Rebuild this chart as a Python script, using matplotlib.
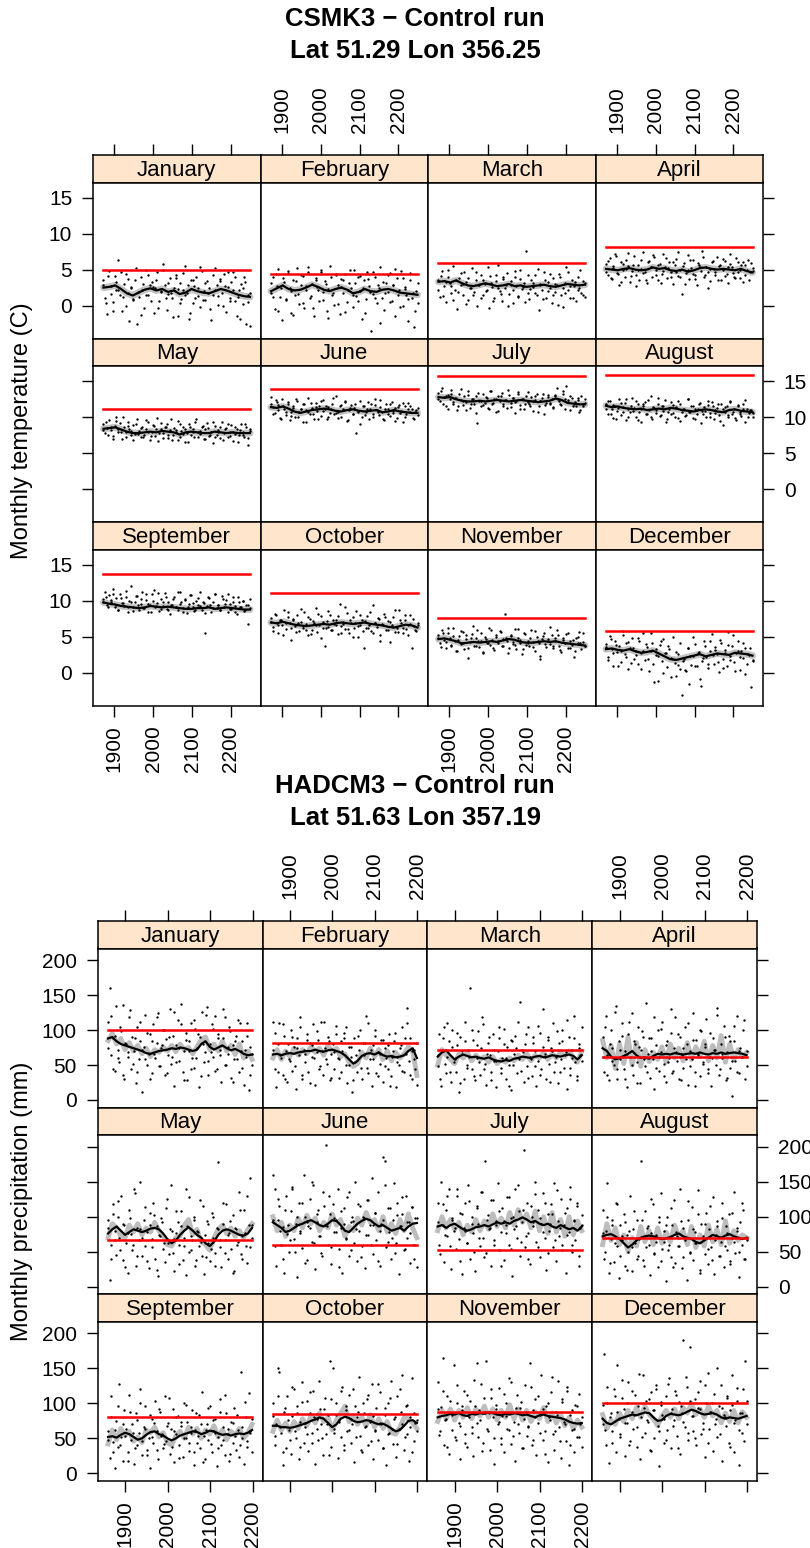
import numpy as np
import matplotlib
matplotlib.use("Agg")
import matplotlib.pyplot as plt

plt.rcParams['font.family'] = ['Liberation Sans', 'DejaVu Sans']

months = ["January", "February", "March", "April", "May", "June",
          "July", "August", "September", "October", "November", "December"]
year_ticks = [1900, 2000, 2100, 2200]

# ---------------- CSMK3 temperature (values in tenths of a degree C) ----------------
temp_years = [1872, 2249]
temp_yticks = [0, 5, 10, 15]
temp_baseline = [4.9, 4.4, 5.9, 8.1, 11.1, 13.9, 15.7, 15.9, 13.8, 11.1, 7.6, 5.8]
temp_smooth = [
    [25, 26, 28, 23, 17, 14, 18, 22, 24, 21, 23, 19, 21, 16, 18, 23, 20, 18, 17, 20, 23, 21, 18, 15, 13, 12],
    [20, 24, 28, 23, 21, 22, 25, 29, 26, 22, 20, 23, 25, 22, 17, 19, 23, 20, 19, 22, 23, 21, 18, 17, 16, 15],
    [33, 34, 32, 35, 31, 28, 27, 29, 31, 29, 27, 28, 30, 27, 28, 26, 27, 28, 29, 27, 26, 28, 30, 29, 28, 29],
    [51, 50, 49, 51, 52, 50, 49, 50, 53, 51, 52, 49, 48, 50, 47, 49, 52, 53, 51, 50, 51, 50, 49, 51, 48, 46],
    [84, 85, 86, 83, 80, 78, 78, 79, 80, 79, 81, 80, 79, 76, 79, 80, 79, 78, 78, 80, 79, 78, 79, 78, 78, 78],
    [114, 113, 115, 112, 108, 106, 108, 110, 111, 112, 111, 109, 108, 110, 111, 109, 108, 109, 110, 107, 108, 110, 108, 107, 106, 106],
    [128, 127, 128, 125, 123, 122, 122, 123, 122, 123, 124, 123, 122, 123, 124, 123, 122, 121, 122, 123, 126, 124, 120, 119, 118, 118],
    [116, 114, 115, 113, 112, 111, 112, 110, 111, 112, 111, 113, 112, 110, 109, 108, 110, 111, 110, 108, 107, 110, 111, 109, 108, 107],
    [98, 96, 95, 93, 92, 91, 90, 91, 93, 92, 91, 92, 91, 90, 89, 89, 90, 90, 91, 89, 90, 91, 90, 89, 88, 88],
    [70, 69, 71, 69, 67, 66, 65, 66, 67, 68, 67, 69, 70, 69, 68, 69, 70, 68, 67, 66, 64, 63, 65, 67, 66, 63],
    [47, 48, 46, 44, 41, 42, 43, 42, 43, 44, 43, 45, 47, 46, 43, 42, 42, 43, 44, 43, 44, 42, 41, 40, 39, 38],
    [33, 34, 32, 31, 33, 30, 28, 29, 31, 27, 23, 19, 18, 20, 22, 24, 26, 23, 25, 27, 26, 25, 28, 27, 26, 24],
]
temp_points = [
    [35, 10, -12, 48, 27, 5, 41, 22, 63, 15, -8, 30, 44, 18, -22, 26, 8, 36, -25, 12, 39, 21, -3, 50, 14, 29, 33, -10, 24, 46, 7, 19, 58, 28, -6, 16, 38, 11, 25, 43, -14, 31, 9, 22, 55, 17, -18, 35, 4, 27, 40, 13, -2, 48, 20, 8, 34, 24, -20, 15, 52, 29, 1, 37, 18, 44, -9, 26, 11, 33, 47, 6, -15, 22, 30, 2, 39, -26, 14, -28],
    [18, 40, -5, 27, 51, 12, -20, 33, 8, 45, 24, -10, 36, 15, 52, 2, 29, 41, -4, 21, 47, 11, 30, -15, 38, 26, 6, 49, 19, 34, -8, 23, 55, 14, 1, 42, 28, -12, 37, 17, 44, 5, 31, 25, -2, 50, 13, 39, 20, -18, 35, 9, 46, 27, -35, 16, 40, 3, 24, 53, 11, -6, 32, 19, 45, 7, 28, -14, 38, 22, 48, 0, 26, 15, -22, 36, 10, -30, 20, 4],
    [35, 12, 48, 27, 5, 40, 31, 18, 55, 22, -5, 38, 29, 14, 46, 33, 8, 25, 52, 19, 36, 0, 28, 43, 15, 30, 21, -3, 41, 26, 11, 34, 56, 20, 7, 37, 24, 45, 16, 29, 3, 39, 27, 13, 50, 23, 32, 76, 18, 9, 35, 26, 42, 14, -6, 30, 21, 47, 11, 33, 25, 4, 38, 19, 28, 44, 15, -2, 31, 53, 22, 10, 36, 27, 6, 40, 24, 17, 34, 12],
    [58, 43, 66, 37, 52, 71, 45, 29, 60, 50, 39, 64, 55, 33, 48, 69, 42, 57, 36, 51, 74, 46, 31, 62, 54, 40, 67, 49, 35, 58, 44, 72, 53, 38, 61, 47, 30, 56, 65, 41, 50, 16, 59, 45, 70, 37, 52, 63, 43, 28, 57, 48, 76, 39, 54, 46, 34, 61, 51, 42, 68, 55, 36, 49, 62, 44, 31, 58, 53, 40, 66, 47, 38, 56, 60, 43, 50, 35, 59, 48],
    [90, 78, 85, 96, 82, 74, 88, 101, 80, 92, 70, 86, 79, 94, 83, 75, 89, 77, 98, 81, 72, 87, 76, 84, 93, 69, 80, 88, 74, 99, 78, 83, 71, 86, 91, 76, 82, 68, 85, 79, 95, 73, 81, 87, 66, 78, 90, 75, 84, 72, 97, 80, 77, 86, 70, 83, 92, 74, 79, 64, 88, 76, 82, 71, 94, 78, 85, 73, 80, 89, 67, 77, 84, 75, 91, 79, 72, 86, 62, 81],
    [128, 114, 106, 121, 117, 99, 125, 111, 103, 119, 96, 108, 115, 101, 122, 107, 112, 94, 118, 110, 127, 104, 113, 98, 120, 109, 116, 102, 124, 111, 97, 114, 106, 119, 105, 130, 108, 115, 100, 112, 121, 95, 110, 117, 104, 113, 78, 109, 123, 101, 116, 107, 112, 98, 119, 105, 126, 110, 103, 114, 108, 96, 118, 111, 102, 121, 106, 113, 99, 117, 109, 93, 115, 104, 120, 107, 112, 97, 110, 103],
    [134, 122, 140, 128, 116, 131, 125, 138, 119, 127, 110, 133, 124, 117, 129, 121, 136, 113, 126, 119, 130, 92, 123, 115, 132, 120, 127, 111, 137, 118, 125, 108, 129, 122, 134, 116, 124, 113, 131, 120, 127, 106, 123, 135, 117, 126, 112, 130, 121, 119, 128, 109, 124, 133, 115, 122, 127, 104, 120, 131, 118, 125, 114, 129, 140, 123, 117, 132, 126, 143, 121, 110, 127, 119, 115, 124, 108, 129, 116, 120],
    [118, 105, 122, 112, 99, 116, 109, 125, 103, 114, 120, 96, 111, 107, 127, 113, 101, 118, 108, 94, 115, 121, 104, 110, 129, 98, 113, 106, 119, 102, 116, 109, 124, 97, 112, 105, 117, 100, 114, 122, 95, 108, 111, 103, 126, 107, 115, 99, 112, 104, 119, 92, 109, 114, 101, 117, 106, 121, 98, 110, 113, 103, 118, 89, 108, 115, 100, 123, 105, 111, 96, 116, 107, 102, 119, 94, 112, 106, 110, 101],
    [103, 112, 95, 108, 99, 116, 91, 104, 87, 110, 97, 93, 105, 85, 100, 121, 92, 98, 107, 88, 96, 113, 90, 101, 84, 94, 109, 115, 91, 97, 86, 103, 93, 111, 89, 99, 82, 95, 106, 92, 87, 113, 98, 90, 102, 83, 96, 108, 91, 86, 100, 94, 112, 88, 97, 56, 93, 104, 85, 99, 110, 90, 95, 87, 107, 92, 101, 84, 96, 89, 105, 93, 82, 98, 91, 100, 86, 94, 68, 90],
    [76, 64, 82, 70, 55, 73, 67, 88, 61, 78, 69, 46, 74, 65, 80, 58, 71, 63, 85, 68, 52, 75, 60, 70, 90, 57, 66, 79, 62, 37, 72, 64, 81, 59, 68, 74, 54, 96, 65, 71, 61, 83, 56, 69, 77, 63, 86, 50, 67, 73, 35, 62, 79, 66, 58, 94, 70, 64, 75, 53, 68, 82, 60, 72, 43, 66, 78, 57, 63, 87, 69, 55, 74, 61, 67, 80, 34, 65, 58, 70],
    [52, 41, 60, 46, 35, 55, 49, 38, 62, 44, 30, 51, 40, 57, 33, 47, 21, 43, 54, 37, 48, 59, 36, 45, 28, 50, 42, 63, 39, 46, 32, 53, 41, 58, 38, 47, 82, 44, 35, 51, 40, 61, 33, 48, 42, 26, 55, 39, 45, 37, 59, 43, 31, 50, 41, 19, 47, 56, 36, 44, 40, 52, 34, 48, 60, 38, 29, 46, 42, 54, 35, 45, 39, 22, 49, 41, 57, 33, 43, 37],
    [40, 22, 51, 33, 10, 45, 29, 37, 15, 58, 26, 41, 5, 34, 48, 20, 31, 12, 44, 27, 55, 18, 36, 3, 30, 42, -12, 25, -11, 39, 16, 47, 28, 8, 33, 21, 50, 14, -4, 26, 6, -31, 19, 2, 35, -15, 11, 24, 40, 9, 29, -18, 17, 45, 22, 7, 31, 54, 13, 36, 26, 1, 42, 19, 32, 10, 57, 23, 38, 15, 28, 44, 4, 30, 21, 35, 12, 25, -20, 18],
]
temp_points_more = [
    [28, 4, 41, 16, -7, 33, 21, 47, 12, -1, 37, 25, 9, 52, 19, -13, 30, 14, 43, 6, 26, 35, -4, 20, 49, 11, 32, 17, -16, 38, 23, 3, 45, 15, 29, -11, 36, 10, 24, 54, 8, 31, 18, -5, 42, 22, 13, 34, -1, 27, 46, 7, 21, 39, 12, -19, 25, 33, 5, 17],
    [31, 12, 44, -7, 25, 38, 9, 48, 20, -13, 34, 16, 42, 4, 27, 53, 13, -3, 36, 22, 47, 8, 30, -17, 39, 18, 44, 2, 26, 35, -9, 21, 50, 15, 32, 6, 41, 24, -11, 37, 19, 46, 10, 29, -24, 33, 17, 43, 5, 28, 51, 14, -2, 38, 23, 9, 45, 18, -8, 31],
    [22, 41, 13, 33, 50, 27, 8, 36, 19, 45, 30, 2, 38, 24, 14, 47, 28, 11, 35, 20, 53, 31, 6, 42, 25, 16, 39, 29, -1, 34, 21, 48, 12, 37, 26, 5, 43, 23, 32, 17, 51, 28, 9, 36, 20, 44, 14, 30, 1, 40, 25, 18, 46, 27, 10, 33, 22, 49, 15, 31],
    [47, 62, 38, 55, 69, 44, 33, 58, 51, 73, 41, 56, 27, 49, 64, 45, 36, 60, 53, 70, 42, 57, 32, 48, 66, 52, 39, 61, 46, 75, 40, 55, 30, 50, 63, 44, 37, 59, 54, 68, 43, 25, 51, 62, 47, 35, 57, 65, 41, 53, 72, 45, 38, 60, 49, 33, 56, 64, 46, 52],
    [82, 93, 76, 87, 70, 95, 84, 79, 100, 73, 88, 81, 68, 91, 77, 85, 72, 96, 80, 74, 89, 83, 67, 92, 78, 86, 71, 98, 75, 82, 69, 90, 77, 84, 65, 87, 79, 93, 73, 81, 88, 70, 85, 76, 94, 72, 80, 86, 68, 83, 90, 74, 79, 87, 66, 82, 76, 91, 71, 84],
    [118, 105, 124, 110, 97, 115, 108, 121, 102, 113, 126, 100, 111, 118, 93, 107, 120, 104, 114, 98, 123, 109, 116, 101, 112, 127, 106, 99, 117, 110, 122, 96, 113, 105, 119, 108, 91, 115, 103, 121, 111, 100, 117, 107, 124, 98, 112, 104, 118, 109, 95, 114, 106, 120, 101, 111, 116, 99, 108, 113],
    [125, 137, 118, 129, 112, 133, 121, 127, 115, 139, 123, 110, 131, 119, 126, 106, 134, 122, 117, 128, 113, 136, 120, 125, 109, 130, 118, 124, 138, 114, 127, 121, 132, 111, 126, 119, 135, 116, 123, 129, 107, 122, 133, 117, 128, 120, 113, 131, 125, 118, 136, 112, 124, 130, 115, 121, 127, 110, 119, 125],
    [111, 123, 104, 117, 98, 113, 120, 107, 126, 101, 115, 109, 122, 96, 112, 118, 105, 124, 100, 114, 110, 127, 103, 116, 93, 108, 121, 106, 113, 99, 119, 111, 102, 125, 107, 116, 97, 112, 120, 104, 109, 123, 100, 115, 106, 118, 95, 111, 114, 103, 121, 108, 99, 117, 105, 112, 124, 101, 110, 106],
    [98, 106, 91, 101, 110, 94, 88, 104, 97, 114, 92, 99, 86, 107, 95, 102, 90, 109, 96, 84, 100, 93, 111, 89, 98, 105, 87, 94, 103, 91, 113, 96, 85, 101, 92, 108, 97, 88, 104, 93, 99, 83, 106, 95, 90, 110, 94, 87, 102, 96, 109, 89, 98, 84, 105, 92, 100, 88, 95, 103],
    [71, 58, 80, 66, 74, 52, 69, 84, 62, 75, 57, 70, 89, 65, 60, 77, 54, 72, 67, 82, 48, 71, 63, 86, 59, 73, 66, 79, 56, 68, 92, 61, 74, 50, 70, 65, 81, 58, 72, 63, 84, 55, 69, 76, 45, 67, 78, 60, 71, 64, 88, 57, 73, 62, 80, 53, 68, 75, 59, 66],
    [48, 36, 56, 43, 62, 39, 51, 31, 46, 58, 41, 53, 34, 49, 65, 38, 45, 55, 29, 47, 42, 60, 35, 50, 44, 57, 37, 48, 27, 52, 43, 39, 61, 46, 33, 54, 41, 49, 36, 58, 44, 24, 51, 40, 47, 64, 38, 45, 53, 32, 48, 42, 56, 35, 46, 30, 50, 41, 55, 37],
    [36, 18, 47, 27, 39, 9, 31, 52, 22, 43, 14, 35, 25, 48, 6, 30, 40, 20, 55, 12, 33, 24, 45, 0, 28, 38, -6, 19, 29, 11, 41, 16, 4, 34, 23, 50, 9, 27, -9, 21, 37, 13, 44, 25, 32, 15, 46, 7, 28, 39, 18, 53, 3, 30, 22, 42, -2, 26, 35, 17],
]

# ---------------- HADCM3 precipitation (mm) ----------------
prec_years = [1860, 2199]
prec_yticks = [0, 50, 100, 150, 200]
prec_baseline = [100, 81, 72, 61, 66, 60, 52, 69, 81, 85, 87, 100]
prec_smooth = [
    [88, 90, 84, 80, 78, 76, 74, 72, 70, 67, 66, 68, 70, 71, 72, 74, 73, 75, 74, 72, 70, 72, 80, 84, 76, 72, 75, 78, 74, 71, 73, 70, 66, 64, 65],
    [65, 66, 64, 66, 67, 66, 68, 69, 70, 70, 72, 70, 69, 71, 72, 70, 68, 64, 58, 52, 56, 63, 66, 67, 65, 68, 64, 62, 63, 61, 62, 64, 70, 74, 60],
    [62, 68, 71, 64, 58, 62, 65, 63, 61, 62, 60, 59, 61, 58, 56, 55, 57, 56, 59, 60, 62, 61, 60, 62, 63, 61, 62, 64, 63, 62, 64, 65, 63, 58, 64],
    [74, 70, 62, 58, 60, 63, 66, 70, 64, 60, 61, 59, 63, 66, 65, 66, 65, 67, 66, 65, 66, 67, 66, 68, 66, 65, 67, 66, 68, 66, 67, 68, 67, 66, 64],
    [76, 82, 86, 80, 74, 78, 82, 80, 78, 80, 83, 84, 82, 76, 68, 62, 66, 74, 80, 85, 80, 74, 70, 62, 58, 64, 74, 80, 82, 80, 77, 74, 73, 76, 84],
    [92, 88, 84, 78, 80, 84, 88, 90, 93, 95, 92, 88, 86, 90, 95, 94, 88, 80, 78, 84, 90, 94, 97, 95, 90, 86, 88, 84, 80, 82, 84, 80, 86, 90, 91],
    [86, 88, 84, 88, 90, 86, 82, 80, 82, 85, 86, 88, 86, 89, 92, 90, 92, 90, 94, 96, 99, 96, 92, 94, 90, 88, 90, 86, 84, 88, 85, 82, 84, 80, 86],
    [72, 74, 75, 72, 68, 62, 56, 60, 66, 70, 72, 73, 72, 70, 68, 69, 71, 74, 76, 72, 70, 68, 64, 62, 66, 70, 74, 72, 70, 73, 75, 72, 70, 68, 70],
    [52, 53, 51, 55, 58, 56, 52, 48, 50, 55, 59, 60, 56, 54, 50, 47, 50, 54, 56, 58, 60, 59, 56, 58, 61, 60, 57, 55, 56, 54, 56, 57, 56, 58, 62],
    [68, 68, 66, 66, 65, 66, 68, 70, 72, 75, 77, 80, 78, 72, 66, 70, 78, 81, 79, 75, 73, 74, 76, 75, 72, 70, 71, 68, 64, 60, 62, 68, 75, 76, 72],
    [80, 82, 83, 85, 84, 86, 83, 82, 85, 84, 86, 85, 87, 86, 84, 83, 85, 84, 86, 85, 83, 84, 82, 80, 83, 84, 82, 81, 80, 79, 77, 74, 72, 71, 72],
    [78, 72, 70, 74, 78, 80, 82, 84, 83, 85, 87, 86, 80, 75, 76, 82, 85, 84, 83, 85, 88, 91, 89, 86, 84, 85, 86, 84, 80, 78, 80, 79, 78, 80, 82],
]
prec_wiggle = [
    [85, 95, 80, 88, 72, 82, 70, 78, 66, 74, 62, 72, 68, 76, 70, 78, 69, 80, 72, 75, 66, 76, 86, 90, 72, 80, 70, 84, 70, 78, 65, 80, 60, 70, 58],
    [60, 72, 58, 70, 62, 74, 64, 72, 66, 76, 68, 74, 64, 78, 70, 74, 62, 66, 54, 48, 52, 68, 60, 74, 62, 72, 58, 70, 56, 68, 60, 66, 76, 70, 35],
    [50, 72, 64, 58, 52, 66, 60, 68, 56, 64, 58, 62, 54, 62, 52, 58, 54, 60, 56, 64, 58, 66, 56, 64, 60, 68, 58, 66, 60, 68, 62, 70, 60, 54, 70],
    [85, 60, 78, 45, 80, 52, 90, 50, 82, 48, 72, 55, 68, 58, 76, 54, 80, 60, 74, 56, 82, 58, 76, 62, 84, 56, 78, 60, 92, 54, 80, 58, 72, 62, 68],
    [70, 90, 84, 72, 70, 88, 78, 90, 74, 84, 78, 92, 80, 72, 60, 58, 70, 72, 88, 96, 74, 82, 64, 60, 52, 70, 82, 88, 76, 84, 72, 80, 70, 82, 90],
    [100, 80, 92, 72, 88, 80, 98, 84, 102, 90, 98, 80, 92, 84, 104, 88, 96, 72, 86, 80, 98, 88, 106, 92, 96, 80, 100, 78, 90, 76, 96, 80, 104, 84, 70],
    [80, 100, 84, 96, 82, 92, 74, 88, 78, 96, 80, 94, 82, 104, 86, 98, 84, 106, 88, 110, 92, 104, 84, 108, 80, 100, 76, 106, 78, 96, 72, 100, 74, 94, 80],
    [60, 90, 66, 84, 60, 74, 50, 70, 58, 86, 64, 80, 60, 84, 62, 78, 64, 88, 70, 80, 60, 86, 56, 74, 58, 88, 64, 82, 60, 94, 62, 80, 66, 74, 70],
    [42, 62, 48, 64, 54, 60, 46, 52, 44, 62, 58, 66, 52, 58, 44, 40, 54, 60, 50, 66, 56, 64, 50, 62, 56, 68, 52, 62, 48, 60, 54, 64, 50, 58, 70],
    [60, 76, 62, 72, 60, 74, 64, 78, 68, 82, 72, 86, 74, 80, 62, 76, 86, 96, 74, 82, 70, 80, 68, 84, 66, 78, 64, 74, 58, 56, 66, 80, 78, 72, 64],
    [74, 90, 78, 92, 76, 90, 80, 94, 78, 92, 82, 96, 80, 92, 76, 90, 80, 98, 78, 92, 76, 90, 74, 88, 78, 94, 74, 86, 72, 84, 68, 80, 64, 76, 66],
    [84, 64, 76, 70, 86, 74, 90, 78, 94, 80, 96, 84, 78, 68, 82, 90, 80, 92, 78, 94, 86, 100, 84, 92, 80, 96, 82, 90, 72, 86, 74, 90, 72, 88, 80],
]
prec_points = [
    [112, 160, 65, 88, 42, 135, 72, 55, 98, 136, 30, 80, 62, 118, 45, 90, 70, 24, 105, 58, 84, 12, 76, 122, 50, 66, 95, 38, 108, 60, 82, 125, 48, 74, 100, 35, 87, 64, 130, 52, 92, 20, 78, 115, 56, 137, 40, 70, 96, 28, 85, 110, 60, 46, 102, 75, 18, 90, 126, 54, 68, 133, 36, 80, 108, 62, 120, 44, 94, 72, 25, 88, 118, 50, 66, 104, 32, 78, 58, 92, 115, 40, 70, 84, 22, 62, 110, 14, 76, 50],
    [112, 45, 18, 80, 110, 60, 35, 92, 70, 25, 58, 100, 42, 76, 15, 88, 64, 104, 30, 72, 55, 95, 40, 82, 62, 108, 22, 68, 86, 48, 112, 36, 74, 58, 90, 28, 66, 80, 44, 106, 60, 32, 84, 70, 96, 50, 24, 76, 62, 12, 88, 54, 40, 72, 100, 30, 64, 82, 46, 110, 58, 20, 78, 92, 38, 68, 52, 86, 26, 74, 60, 44, 95, 34, 70, 84, 18, 62, 50, 78, 104, 40, 66, 132, 56, 88, 30, 72, 45, 22],
    [48, 95, 20, 70, 105, 38, 62, 84, 25, 100, 55, 40, 78, 12, 90, 66, 30, 112, 50, 72, 160, 44, 86, 28, 60, 98, 35, 74, 108, 52, 22, 82, 64, 40, 94, 56, 18, 70, 88, 46, 60, 102, 30, 76, 50, 14, 84, 66, 92, 38, 58, 140, 72, 26, 80, 48, 104, 62, 34, 90, 70, 20, 56, 96, 44, 130, 66, 30, 86, 52, 74, 110, 40, 62, 24, 82, 58, 100, 46, 68, 16, 90, 36, 72, 120, 54, 28, 80, 64, 105],
    [90, 40, 120, 65, 28, 100, 75, 50, 135, 30, 85, 58, 110, 44, 70, 18, 95, 62, 125, 36, 80, 54, 105, 24, 72, 90, 48, 138, 66, 32, 88, 58, 15, 78, 100, 42, 68, 112, 52, 26, 84, 60, 96, 38, 74, 118, 56, 30, 90, 64, 46, 104, 80, 22, 70, 58, 124, 40, 86, 66, 34, 98, 54, 76, 116, 44, 62, 20, 88, 72, 50, 132, 36, 80, 60, 106, 28, 68, 92, 46, 5, 84, 56, 120, 38, 74, 62, 100, 30, 70],
    [95, 10, 60, 118, 80, 45, 100, 70, 130, 38, 88, 62, 20, 110, 75, 52, 140, 30, 84, 66, 150, 44, 96, 58, 78, 26, 105, 68, 120, 40, 86, 15, 72, 98, 54, 35, 112, 62, 82, 145, 48, 22, 76, 92, 60, 108, 38, 70, 16, 86, 128, 52, 66, 100, 30, 80, 58, 124, 44, 18, 74, 94, 62, 36, 106, 70, 48, 84, 178, 56, 28, 90, 66, 118, 40, 76, 54, 102, 22, 82, 64, 136, 46, 72, 110, 58, 34, 88, 155, 70],
    [160, 140, 30, 95, 115, 60, 85, 20, 130, 75, 50, 108, 142, 68, 90, 14, 120, 80, 55, 160, 100, 38, 86, 125, 64, 145, 25, 92, 110, 72, 48, 135, 88, 202, 60, 104, 32, 118, 78, 96, 140, 54, 84, 20, 112, 70, 128, 44, 92, 100, 62, 150, 36, 80, 116, 58, 98, 26, 124, 74, 88, 155, 46, 106, 66, 136, 30, 90, 185, 180, 56, 112, 78, 40, 96, 148, 62, 120, 18, 86, 104, 52, 130, 70, 92, 34, 114, 60, 98, 28],
    [120, 60, 150, 88, 35, 110, 72, 140, 25, 96, 80, 54, 130, 68, 105, 18, 84, 120, 62, 145, 40, 100, 76, 22, 115, 90, 58, 135, 70, 180, 48, 102, 84, 30, 124, 66, 94, 148, 52, 78, 112, 38, 88, 128, 60, 98, 15, 82, 140, 70, 108, 44, 92, 195, 56, 120, 76, 32, 100, 86, 150, 64, 110, 42, 90, 134, 70, 24, 104, 80, 118, 56, 148, 36, 94, 72, 126, 60, 88, 20, 112, 78, 142, 50, 96, 66, 120, 30, 84, 102],
    [110, 40, 80, 148, 20, 68, 95, 35, 120, 58, 12, 88, 66, 104, 30, 74, 50, 130, 22, 82, 62, 96, 44, 70, 180, 38, 108, 56, 86, 16, 76, 118, 48, 64, 28, 92, 134, 54, 80, 8, 100, 60, 42, 88, 124, 34, 72, 58, 140, 26, 84, 66, 10, 96, 50, 114, 38, 78, 62, 138, 24, 90, 70, 46, 106, 32, 82, 56, 128, 18, 74, 94, 44, 64, 120, 28, 86, 52, 104, 36, 70, 136, 48, 80, 14, 92, 60, 110, 40, 66],
    [60, 22, 110, 45, 8, 75, 38, 128, 52, 18, 90, 64, 30, 112, 48, 70, 14, 86, 40, 58, 120, 26, 66, 96, 34, 50, 8, 78, 44, 104, 60, 20, 88, 54, 36, 110, 46, 72, 28, 64, 92, 16, 56, 82, 40, 68, 24, 100, 50, 74, 32, 58, 90, 12, 62, 44, 84, 36, 116, 54, 20, 70, 48, 96, 30, 60, 78, 10, 52, 106, 40, 66, 26, 86, 56, 18, 74, 44, 94, 34, 62, 24, 145, 50, 14, 80, 38, 115, 58, 30],
    [100, 40, 70, 150, 145, 58, 12, 88, 36, 110, 62, 28, 82, 120, 50, 96, 20, 74, 130, 44, 66, 104, 32, 86, 58, 118, 14, 78, 48, 92, 70, 26, 108, 56, 84, 160, 38, 150, 64, 100, 22, 76, 52, 124, 34, 90, 60, 112, 44, 70, 16, 96, 80, 138, 54, 30, 86, 66, 106, 40, 74, 128, 20, 62, 94, 48, 116, 70, 36, 84, 12, 100, 58, 132, 42, 78, 24, 110, 64, 88, 140, 34, 96, 56, 18, 80, 136, 46, 72, 60],
    [130, 55, 95, 165, 40, 78, 110, 28, 86, 62, 155, 48, 100, 72, 20, 90, 118, 56, 38, 84, 104, 66, 25, 96, 158, 52, 76, 128, 44, 88, 160, 60, 34, 108, 80, 14, 92, 70, 122, 50, 82, 30, 100, 64, 136, 42, 86, 74, 18, 112, 58, 94, 36, 78, 126, 54, 68, 158, 40, 90, 106, 26, 72, 84, 140, 48, 60, 96, 16, 80, 116, 56, 34, 88, 132, 66, 22, 102, 74, 46, 124, 12, 84, 62, 30, 98, 52, 114, 70, 38],
    [70, 170, 40, 100, 15, 86, 60, 120, 30, 155, 78, 52, 108, 92, 25, 72, 130, 46, 88, 64, 112, 38, 96, 20, 80, 140, 58, 104, 74, 34, 116, 90, 50, 126, 68, 10, 98, 84, 44, 110, 62, 136, 36, 92, 76, 118, 54, 102, 28, 86, 190, 66, 124, 48, 180, 82, 60, 106, 40, 94, 132, 56, 72, 24, 100, 144, 64, 88, 32, 114, 78, 52, 96, 126, 18, 84, 68, 110, 44, 90, 140, 30, 76, 104, 12, 86, 58, 120, 160, 70],
]
prec_points_more = [
    [74, 120, 45, 92, 60, 105, 35, 82, 68, 128, 52, 88, 40, 112, 72, 58, 96, 30, 84, 66, 118, 48, 78, 100, 38, 90, 62, 126, 54, 74, 108, 28, 86, 70, 44, 114, 60, 94, 34, 80, 122, 56, 68, 102, 42, 88, 64, 130, 50, 76, 98, 26, 84, 58, 110, 46, 72, 92, 36, 66],
    [72, 96, 40, 64, 108, 30, 80, 56, 90, 48, 74, 118, 36, 66, 86, 24, 78, 60, 98, 44, 70, 112, 52, 84, 32, 68, 94, 58, 40, 88, 104, 50, 76, 28, 64, 92, 46, 82, 120, 38, 72, 58, 100, 34, 66, 86, 48, 78, 20, 62, 96, 54, 74, 42, 88, 110, 36, 70, 58, 82],
    [64, 30, 88, 52, 110, 40, 76, 58, 96, 24, 70, 84, 46, 62, 100, 34, 78, 54, 118, 44, 66, 90, 28, 72, 56, 104, 38, 80, 60, 20, 86, 50, 74, 112, 42, 68, 94, 32, 58, 82, 48, 106, 36, 76, 62, 90, 26, 70, 54, 98, 40, 84, 64, 114, 46, 60, 88, 34, 74, 56],
    [62, 104, 36, 80, 56, 126, 44, 72, 92, 30, 66, 112, 50, 84, 24, 76, 98, 58, 40, 88, 70, 118, 46, 62, 102, 34, 78, 54, 130, 42, 68, 94, 28, 74, 58, 110, 48, 86, 20, 64, 100, 52, 80, 38, 96, 60, 72, 122, 44, 66, 90, 32, 84, 56, 106, 40, 70, 62, 114, 48],
    [84, 40, 104, 66, 122, 52, 90, 28, 76, 98, 60, 134, 44, 82, 70, 114, 36, 88, 56, 102, 24, 74, 92, 62, 126, 46, 80, 68, 108, 32, 86, 58, 140, 50, 72, 96, 38, 78, 64, 116, 42, 90, 54, 100, 30, 82, 66, 120, 48, 74, 94, 20, 84, 60, 110, 40, 76, 130, 56, 88],
    [96, 58, 126, 80, 40, 110, 88, 66, 140, 50, 100, 76, 120, 34, 92, 84, 150, 62, 104, 72, 44, 116, 86, 130, 56, 98, 78, 28, 108, 90, 68, 136, 52, 94, 82, 118, 42, 100, 74, 124, 60, 88, 106, 36, 80, 96, 146, 64, 112, 70, 48, 102, 86, 128, 54, 92, 76, 114, 40, 98],
    [92, 46, 118, 74, 130, 58, 98, 84, 140, 36, 104, 80, 62, 122, 90, 50, 112, 70, 136, 42, 96, 82, 124, 60, 88, 108, 30, 94, 76, 128, 54, 100, 86, 146, 64, 110, 72, 40, 116, 92, 132, 56, 98, 78, 120, 48, 90, 104, 66, 138, 84, 52, 106, 74, 126, 60, 94, 116, 44, 88],
    [76, 50, 100, 34, 88, 62, 118, 44, 72, 92, 24, 80, 56, 108, 40, 68, 96, 30, 84, 60, 126, 46, 74, 100, 36, 64, 88, 52, 112, 28, 78, 58, 94, 42, 70, 122, 48, 82, 62, 104, 20, 72, 90, 54, 116, 38, 66, 86, 44, 98, 58, 76, 32, 106, 64, 84, 50, 120, 40, 70],
    [48, 80, 30, 62, 96, 40, 70, 54, 18, 88, 58, 36, 76, 100, 46, 64, 26, 84, 52, 72, 34, 92, 56, 42, 68, 108, 38, 60, 80, 22, 74, 50, 98, 44, 66, 30, 86, 54, 70, 16, 62, 94, 42, 76, 58, 36, 88, 48, 112, 64, 28, 72, 54, 84, 40, 66, 102, 46, 60, 78],
    [82, 54, 110, 66, 30, 94, 76, 48, 124, 60, 86, 38, 102, 72, 56, 116, 44, 80, 64, 132, 50, 92, 70, 26, 106, 58, 84, 74, 118, 40, 96, 62, 78, 120, 52, 88, 34, 100, 68, 112, 46, 82, 60, 128, 72, 36, 94, 56, 108, 64, 80, 42, 120, 70, 52, 98, 66, 30, 86, 76],
    [92, 60, 118, 76, 38, 104, 84, 52, 126, 68, 96, 44, 112, 80, 58, 134, 72, 90, 32, 108, 64, 86, 120, 50, 98, 74, 42, 114, 82, 62, 130, 54, 94, 70, 102, 36, 88, 66, 124, 48, 80, 110, 58, 92, 28, 100, 76, 138, 60, 84, 46, 106, 70, 118, 40, 90, 64, 96, 52, 80],
    [98, 62, 124, 80, 44, 110, 88, 56, 134, 72, 100, 40, 118, 84, 66, 142, 52, 94, 76, 106, 32, 90, 120, 60, 102, 78, 48, 128, 86, 68, 112, 36, 96, 74, 138, 58, 104, 82, 50, 116, 92, 64, 126, 44, 88, 100, 70, 150, 56, 94, 80, 108, 38, 98, 72, 122, 62, 86, 46, 104],
]

W, H = 810, 1548
fig = plt.figure(figsize=(W / 100, H / 100), dpi=100)
STRIP_COL = '#ffe5cc'
TICK_FS = 15


def box(l, t, r, b):
    return [l / W, 1 - b / H, (r - l) / W, (b - t) / H]


def draw_block(cols, top, bottom, xlim, ylim, yticks, years, baseline,
               smooth, point_sets, wiggle, scale, title, title_y, ylabel):
    strip_h = 27.5
    row_h = (bottom - top) / 3
    for i in range(12):
        r, c = divmod(i, 4)
        l, rr = cols[c], cols[c + 1]
        t = top + r * row_h
        sax = fig.add_axes(box(l, t, rr, t + strip_h))
        ax = fig.add_axes(box(l, t + strip_h, rr, t + row_h))

        # strip
        sax.set_facecolor(STRIP_COL)
        sax.set_xlim(xlim)
        sax.set_ylim(0, 1)
        sax.set_yticks([])
        sax.text(0.5, 0.45, months[i], transform=sax.transAxes,
                 ha='center', va='center', fontsize=16)
        if r == 0:
            sax.set_xticks(year_ticks)
            sax.tick_params(axis='x', top=True, bottom=False, labeltop=(c % 2 == 1),
                            labelbottom=False, direction='out', length=8, width=1,
                            labelsize=TICK_FS, labelrotation=90, pad=8)
        else:
            sax.set_xticks([])

        # data
        sm = np.array(smooth[i]) / scale
        sx = np.linspace(years[0], years[1], len(sm))
        if wiggle is None:
            ax.plot(sx, sm, color='#c4c4c4', lw=5, solid_capstyle='round', zorder=1)
        else:
            wg = np.array(wiggle[i])
            wx = np.linspace(years[0], years[1], len(wg))
            ax.plot(wx, wg, color='#bdbdbd', lw=3.5, zorder=1)
        for pset in point_sets:
            pts = np.array(pset[i]) / scale
            px = np.linspace(years[0], years[1], len(pts))
            ax.plot(px, pts, 'o', color='black', ms=1.7, mew=0, zorder=2)
        ax.plot(sx, sm, color='black', lw=1.6, zorder=3)
        ax.plot([years[0], years[1]], [baseline[i], baseline[i]], color='red', lw=1.8, zorder=4)

        ax.set_xlim(xlim)
        ax.set_ylim(ylim)
        ax.set_xticks(year_ticks)
        ax.set_yticks(yticks)
        ax.tick_params(direction='out', length=8, width=1, labelsize=TICK_FS,
                       bottom=(r == 2), labelbottom=(r == 2 and c % 2 == 0),
                       left=(c == 0), labelleft=(c == 0 and r != 1),
                       right=(c == 3), labelright=(c == 3 and r == 1), top=False)
        ax.tick_params(axis='x', labelrotation=90, pad=6)
        ax.tick_params(axis='y', pad=7)
        for a in (ax, sax):
            for s in a.spines.values():
                s.set_linewidth(1.1)

    fig.text(415 / W, 1 - title_y[0] / H, title[0], ha='center', va='center',
             fontsize=18.5, fontweight='bold')
    fig.text(415 / W, 1 - title_y[1] / H, title[1], ha='center', va='center',
             fontsize=18.5, fontweight='bold')
    fig.text(22 / W, 1 - (top + bottom) / 2 / H, ylabel, rotation=90,
             ha='center', va='center', fontsize=17)


draw_block([93, 260.5, 428, 595.5, 763], 155, 706, (1845, 2276), (-4.6, 17.1),
           temp_yticks, temp_years, temp_baseline, temp_smooth,
           [temp_points, temp_points_more], None, 10.0,
           ["CSMK3 \u2212 Control run", "Lat 51.29 Lon 356.25"], (19, 51),
           "Monthly temperature (C)")

draw_block([97.7, 262.5, 427.3, 592.2, 757], 921, 1481, (1835.5, 2223.5), (-11, 216.6),
           prec_yticks, prec_years, prec_baseline, prec_smooth,
           [prec_points, prec_points_more], prec_wiggle, 1.0,
           ["HADCM3 \u2212 Control run", "Lat 51.63 Lon 357.19"], (786, 818),
           "Monthly precipitation (mm)")

fig.savefig("out.png", dpi=100)
